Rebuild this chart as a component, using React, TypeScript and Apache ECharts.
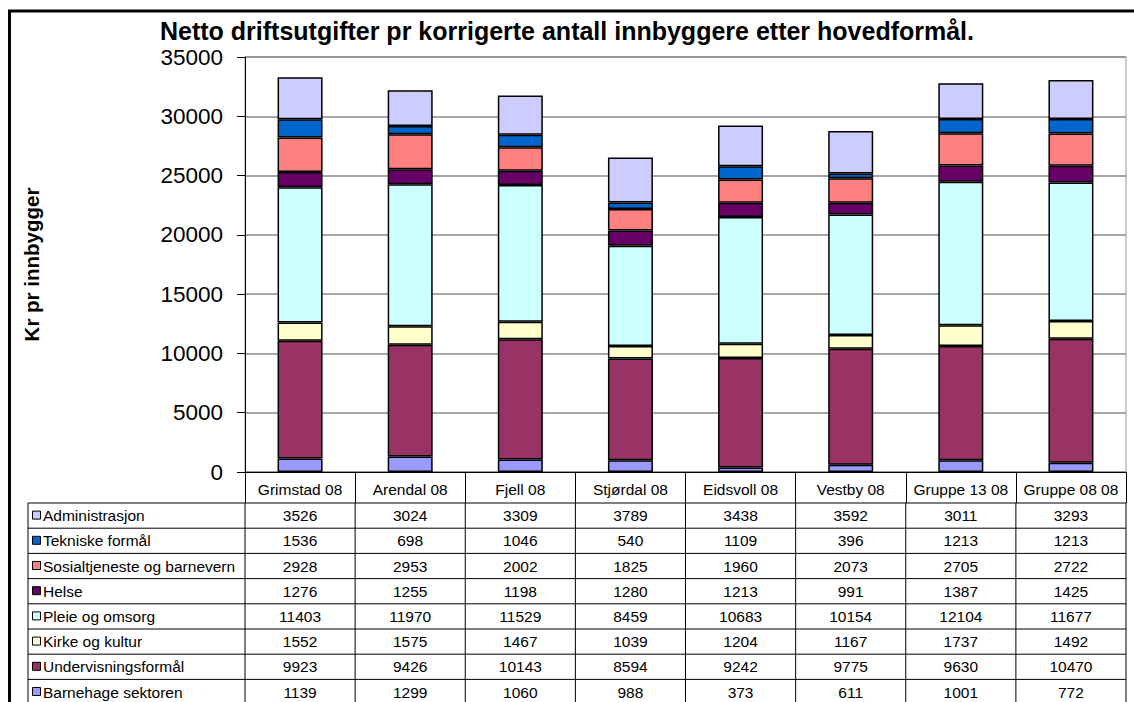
import React, { useEffect, useRef } from "react";
import * as echarts from "echarts";

const categories = ["Grimstad 08", "Arendal 08", "Fjell 08", "Stjørdal 08", "Eidsvoll 08", "Vestby 08", "Gruppe 13 08", "Gruppe 08 08"];

// Series, listed bottom of stack first
const barnehage = [1139, 1299, 1060, 988, 373, 611, 1001, 772];
const undervisning = [9923, 9426, 10143, 8594, 9242, 9775, 9630, 10470];
const kirke = [1552, 1575, 1467, 1039, 1204, 1167, 1737, 1492];
const pleie = [11403, 11970, 11529, 8459, 10683, 10154, 12104, 11677];
const helse = [1276, 1255, 1198, 1280, 1213, 991, 1387, 1425];
const sosial = [2928, 2953, 2002, 1825, 1960, 2073, 2705, 2722];
const tekniske = [1536, 698, 1046, 540, 1109, 396, 1213, 1213];
const administrasjon = [3526, 3024, 3309, 3789, 3438, 3592, 3011, 3293];

const seriesNames = ["Barnehage sektoren", "Undervisningsformål", "Kirke og kultur", "Pleie og omsorg", "Helse", "Sosialtjeneste og barnevern", "Tekniske formål", "Administrasjon"];
const seriesData = [barnehage, undervisning, kirke, pleie, helse, sosial, tekniske, administrasjon];
const seriesColors = ["#9999FF", "#993366", "#FFFFCC", "#CCFFFF", "#660066", "#FF8080", "#0066CC", "#CCCCFF"];

const yTicks = [0, 5000, 10000, 15000, 20000, 25000, 30000, 35000];

const W = 1134;
const H = 702;
const GL = 245;
const GR = 1126;
const GT = 57;
const GB = 472;
const TABLE_LEFT = 28;
const HEADER_BOTTOM = 503;
const ROW_H = 25.2;

export default function App() {
  const ref = useRef<HTMLDivElement>(null);
  useEffect(() => {
    if (!ref.current) return;
    const chart = echarts.init(ref.current, null, { renderer: "svg" });
    const font = "'Liberation Sans', Arial, sans-serif";
    const colW = (GR - GL) / categories.length;

    const rowOrder = seriesNames.map((_, i) => seriesNames.length - 1 - i);
    const graphics: any[] = [];
    graphics.push({ type: "polyline", shape: { points: [[9.5, H + 5], [9.5, 11], [W + 5, 11]] }, style: { stroke: "#000", lineWidth: 3, fill: "none" }, z: 10 });
    for (let i = 0; i <= rowOrder.length; i++) {
      const y = HEADER_BOTTOM + ROW_H * i;
      graphics.push({ type: "line", shape: { x1: TABLE_LEFT, y1: y, x2: GR, y2: y }, style: { stroke: "#000", lineWidth: 1 } });
    }
    const vx = [TABLE_LEFT, GL];
    for (let j = 1; j <= categories.length; j++) vx.push(GL + colW * j);
    vx.forEach((x) => {
      graphics.push({ type: "line", shape: { x1: x, y1: HEADER_BOTTOM, x2: x, y2: H + 5 }, style: { stroke: "#000", lineWidth: 1 } });
    });
    rowOrder.forEach((si, i) => {
      const cy = HEADER_BOTTOM + ROW_H * (i + 0.5);
      graphics.push({ type: "rect", shape: { x: 32.5, y: cy - 4.5, width: 8, height: 8 }, style: { fill: seriesColors[si], stroke: "#000", lineWidth: 1 } });
      graphics.push({ type: "text", x: 43, y: cy, style: { text: seriesNames[si], font: `15.5px ${font}`, fill: "#000", verticalAlign: "middle", align: "left" } });
      seriesData[si].forEach((v, j) => {
        graphics.push({ type: "text", x: GL + colW * (j + 0.5), y: cy, style: { text: String(v), font: `15.5px ${font}`, fill: "#000", align: "center", verticalAlign: "middle" } });
      });
    });

    chart.setOption({
      animation: false,
      backgroundColor: "#fff",
      title: {
        text: "Netto driftsutgifter pr korrigerte antall innbyggere etter hovedformål.",
        left: 562,
        top: 13,
        textAlign: "center",
        textStyle: { fontFamily: font, fontSize: 25, fontWeight: "bold", color: "#000" },
      },
      grid: { left: GL, right: W - GR, top: GT, bottom: H - GB, show: true, borderColor: "#999", borderWidth: 1 },
      xAxis: {
        type: "category",
        data: categories,
        axisLine: { lineStyle: { color: "#000", width: 1 } },
        axisTick: { show: true, length: HEADER_BOTTOM - GB, lineStyle: { color: "#000" } },
        axisLabel: { color: "#000", fontFamily: font, fontSize: 15.5, margin: 9, interval: 0 },
      },
      yAxis: {
        type: "value",
        min: yTicks[0],
        max: yTicks[yTicks.length - 1],
        interval: 5000,
        name: "Kr pr innbygger",
        nameLocation: "middle",
        nameRotate: 90,
        nameGap: 203,
        nameTextStyle: { fontFamily: font, fontSize: 20.5, fontWeight: "bold", color: "#000" },
        axisLine: { show: true, lineStyle: { color: "#000", width: 1 } },
        axisTick: { show: true, length: 8, lineStyle: { color: "#000" } },
        axisLabel: { color: "#000", fontFamily: font, fontSize: 22.5, margin: 22, formatter: (v: number) => String(v) },
        splitLine: { show: true, lineStyle: { color: "#888", width: 1.5 } },
      },
      series: seriesNames.map((name, i) => ({
        name,
        type: "bar",
        stack: "total",
        data: seriesData[i],
        barWidth: 45,
        itemStyle: { color: seriesColors[i], borderColor: "#000", borderWidth: 1.5 },
      })),
      graphic: graphics,
    });
    return () => chart.dispose();
  }, []);
  return <div ref={ref} style={{ position: "fixed", left: 0, top: 0, width: W, height: H }} />;
}
